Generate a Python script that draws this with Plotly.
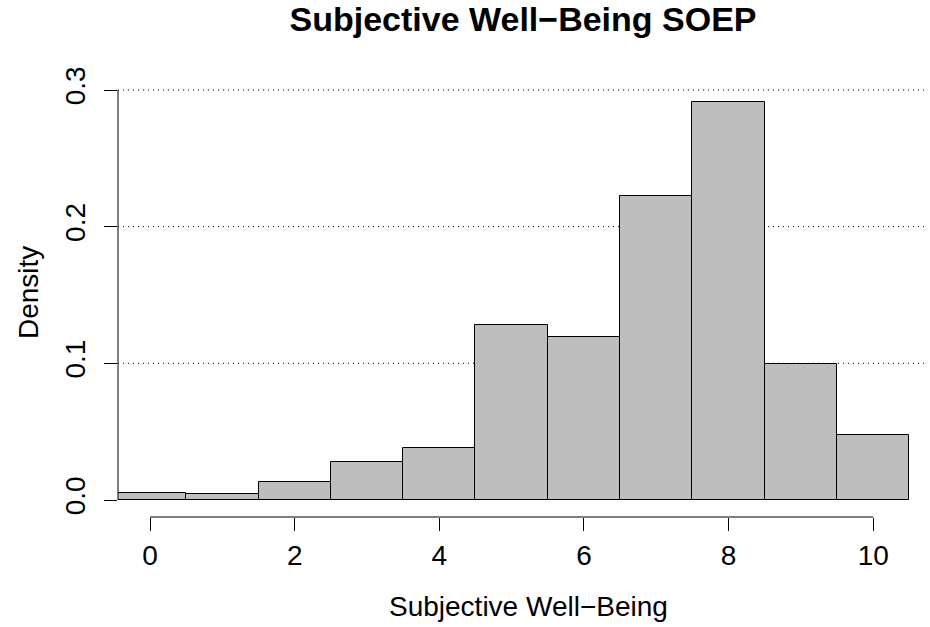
import plotly.graph_objects as go

# Histogram data (bins of width 1 centred on integers 0..10)
bin_centers = [0, 1, 2, 3, 4, 5, 6, 7, 8, 9, 10]
density = [0.0049, 0.0044, 0.0132, 0.0278, 0.0380, 0.1280, 0.1195, 0.2227, 0.2915, 0.0998, 0.0478]
x_ticks = [0, 2, 4, 6, 8, 10]
y_ticks = [0.0, 0.1, 0.2, 0.3]
title_text = "Subjective Well\u2212Being SOEP"
x_label = "Subjective Well\u2212Being"
y_label = "Density"

FONT = "Liberation Sans, Arial, Helvetica, sans-serif"

fig = go.Figure()
fig.add_trace(go.Bar(
    x=bin_centers, y=density, width=1,
    marker=dict(color="#BEBEBE", line=dict(color="black", width=1)),
    hoverinfo="skip",
))

shapes = []
for g in [0.1, 0.2, 0.3]:
    shapes.append(dict(type="line", xref="paper", x0=0, x1=1, yref="y", y0=g, y1=g,
                       line=dict(color="black", width=1, dash="1px,4px"), layer="below"))
# y axis line (0 .. 0.3)
shapes.append(dict(type="line", xref="paper", x0=0, x1=0, yref="y", y0=0, y1=0.3,
                   line=dict(color="black", width=1), layer="above"))
# x axis line (0 .. 10), drawn at bottom of plot area
shapes.append(dict(type="line", xref="x", x0=x_ticks[0], x1=x_ticks[-1], yref="paper", y0=0, y1=0,
                   line=dict(color="black", width=1), layer="above"))

fig.update_layout(
    width=930, height=627,
    margin=dict(l=118, r=2, t=88, b=110),
    paper_bgcolor="white", plot_bgcolor="white",
    showlegend=False, bargap=0,
    font=dict(family=FONT, size=28, color="black"),
    title=dict(text="<b>" + title_text + "</b>", x=0.5, xref="paper", xanchor="center",
               y=1 - 19 / 627, yref="container", yanchor="middle",
               font=dict(family=FONT, size=34, color="black")),
    xaxis=dict(range=[-0.4424, 10.756], tickmode="array", tickvals=x_ticks,
               ticktext=[str(v) for v in x_ticks],
               ticks="outside", ticklen=13, tickwidth=1, tickcolor="black",
               showline=False, showgrid=False, zeroline=False,
               tickfont=dict(family=FONT, size=28, color="black")),
    yaxis=dict(range=[-0.01244, 0.30146], tickmode="array", tickvals=y_ticks,
               ticktext=["%.1f" % v for v in y_ticks], tickangle=-90,
               ticks="outside", ticklen=13, tickwidth=1, tickcolor="black",
               ticklabelstandoff=8,
               showline=False, showgrid=False, zeroline=False,
               tickfont=dict(family=FONT, size=28, color="black")),
    shapes=shapes,
    annotations=[
        dict(text=x_label, xref="paper", yref="paper", x=(528 - 118) / 810, y=0,
             xanchor="center", yanchor="middle", yshift=-89, showarrow=False,
             font=dict(family=FONT, size=28, color="black")),
        dict(text=y_label, xref="paper", yref="paper", x=0, y=(517 - 293) / 429,
             xanchor="center", yanchor="middle", xshift=-90, textangle=-90, showarrow=False,
             font=dict(family=FONT, size=28, color="black")),
    ],
)

fig.write_html("out.html")
